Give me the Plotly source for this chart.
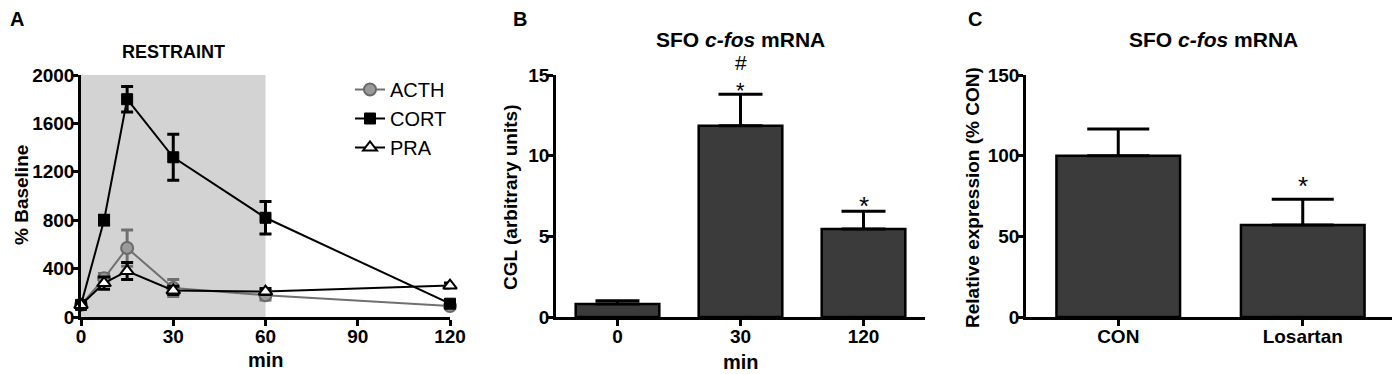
import plotly.graph_objects as go

# ---- Data ----
time_min = [0, 7.5, 15, 30, 60, 120]
acth = [100, 320, 570, 240, 180, 90]
acth_err = [15, 40, 150, 70, 40, 15]
cort = [100, 800, 1800, 1320, 820, 110]
cort_err = [15, 40, 105, 190, 135, 20]
pra = [100, 280, 380, 220, 210, 260]
pra_err = [15, 50, 70, 35, 25, 20]

b_cats = ["0", "30", "120"]
b_vals = [0.8, 11.85, 5.45]
b_err = [0.2, 1.95, 1.1]

c_cats = ["CON", "Losartan"]
c_vals = [100, 57]
c_err = [16.5, 16]

# page body has an 8px default margin; compensate
OFF = 8
W, H = 1400 - OFF, 374 - OFF
FONT = "Liberation Sans"

def px(x):
    return (x - OFF) / W

def py(y):
    return (H - (y - OFF)) / H

fig = go.Figure()

# Panel A traces
fig.add_trace(go.Scatter(
    x=time_min, y=acth, name="ACTH", mode="lines+markers",
    line=dict(color="#707070", width=2),
    marker=dict(symbol="circle", size=12, color="#9a9a9a", line=dict(color="#6a6a6a", width=2)),
    error_y=dict(type="data", array=acth_err, color="#707070", thickness=3, width=6),
    xaxis="x", yaxis="y", cliponaxis=False))
fig.add_trace(go.Scatter(
    x=time_min, y=cort, name="CORT", mode="lines+markers",
    line=dict(color="black", width=2),
    marker=dict(symbol="square", size=11, color="black", line=dict(color="black", width=1)),
    error_y=dict(type="data", array=cort_err, color="black", thickness=3, width=6),
    xaxis="x", yaxis="y", cliponaxis=False))
fig.add_trace(go.Scatter(
    x=time_min, y=pra, name="PRA", mode="lines+markers",
    line=dict(color="black", width=2),
    marker=dict(symbol="triangle-up", size=12, color="white", line=dict(color="black", width=2)),
    error_y=dict(type="data", array=pra_err, color="black", thickness=3, width=6),
    xaxis="x", yaxis="y", cliponaxis=False))

# Panel B bars
fig.add_trace(go.Bar(
    x=b_cats, y=b_vals, width=0.68, showlegend=False,
    marker=dict(color="#3b3b3b", line=dict(color="black", width=2.5)),
    error_y=dict(type="data", array=b_err, arrayminus=[0, 0, 0], color="black", thickness=3, width=22),
    xaxis="x2", yaxis="y2"))

# Panel C bars
fig.add_trace(go.Bar(
    x=c_cats, y=c_vals, width=0.67, showlegend=False,
    marker=dict(color="#3b3b3b", line=dict(color="black", width=2.5)),
    error_y=dict(type="data", array=c_err, arrayminus=[0, 0], color="black", thickness=3, width=31),
    xaxis="x3", yaxis="y3"))

ydom = [py(317), py(75)]
tickfont = dict(family=FONT, size=19, color="black", weight="bold")
axcommon = dict(showline=True, linecolor="black", linewidth=2.5, ticks="outside",
                ticklen=6, tickwidth=2.5, tickcolor="black", showgrid=False,
                zeroline=False, tickfont=tickfont, automargin=False)
xax = dict(ticklabelstandoff=-6, **axcommon)
yax = dict(ticklabelstandoff=-6, **axcommon)

fig.update_layout(
    width=W, height=H, margin=dict(l=0, r=0, t=0, b=0),
    plot_bgcolor="white", paper_bgcolor="white",
    xaxis=dict(domain=[px(81), px(450)], range=[0, 120], tickvals=[0, 30, 60, 90, 120],
               anchor="y", **xax),
    yaxis=dict(domain=ydom, range=[0, 2000], tickvals=[0, 400, 800, 1200, 1600, 2000],
               anchor="x", **yax),
    xaxis2=dict(domain=[px(556), px(925)], range=[-0.5, 2.5], type="category",
                anchor="y2", **xax),
    yaxis2=dict(domain=ydom, range=[0, 15], tickvals=[0, 5, 10, 15], anchor="x2", **yax),
    xaxis3=dict(domain=[px(1026), px(1395)], range=[-0.5, 1.5], type="category",
                anchor="y3", **xax),
    yaxis3=dict(domain=ydom, range=[0, 150], tickvals=[0, 50, 100, 150], anchor="x3", **yax),
    legend=dict(x=px(350), y=py(70), xanchor="left", yanchor="top",
                font=dict(family=FONT, size=20, color="black"),
                bgcolor="rgba(0,0,0,0)", itemwidth=30),
    showlegend=True,
    bargap=0.3,
)

# shaded restraint period
fig.add_shape(type="rect", xref="x", yref="y", x0=0, x1=60, y0=0, y1=2000,
              fillcolor="#d3d3d3", line=dict(width=0), layer="below")

ann = []
def text(x, y, s, size=16, bold=True, xref="paper", yref="paper", angle=0, xanchor="center", yanchor="middle"):
    ann.append(dict(x=x, y=y, xref=xref, yref=yref, text=s, showarrow=False, textangle=angle,
                    xanchor=xanchor, yanchor=yanchor,
                    font=dict(family=FONT, size=size, color="black", weight="bold" if bold else "normal")))

# Panel letters
text(px(8), py(19), "A", size=20, xanchor="left")
text(px(511), py(19), "B", size=20, xanchor="left")
text(px(966), py(19), "C", size=20, xanchor="left")

# Panel A titles
text(30, py(52), "RESTRAINT", size=18, xref="x")
text(px(21), py(195), "% Baseline", size=19, angle=-90)
text(px(266), py(360), "min", size=20)

# Panel B
text(px(740), py(40), "SFO <i>c-fos</i> mRNA", size=21)
text(px(510), py(198), "CGL (arbitrary units)", size=19, angle=-90)
text(px(741), py(362), "min", size=20)
text(1, py(76), "#", size=21, bold=False, xref="x2", yref="paper", yanchor="bottom")
text(1, py(76), "*", size=22, bold=False, xref="x2", yref="paper", yanchor="top")
text(2, 6.85, "*", size=26, bold=False, xref="x2", yref="y2")

# Panel C
text(px(1213), py(40), "SFO <i>c-fos</i> mRNA", size=21)
text(px(972), py(198), "Relative expression (% CON)", size=19, angle=-90)
text(1, 81.5, "*", size=26, bold=False, xref="x3", yref="y3")

fig.update_layout(annotations=ann)

fig.write_html("out.html")
